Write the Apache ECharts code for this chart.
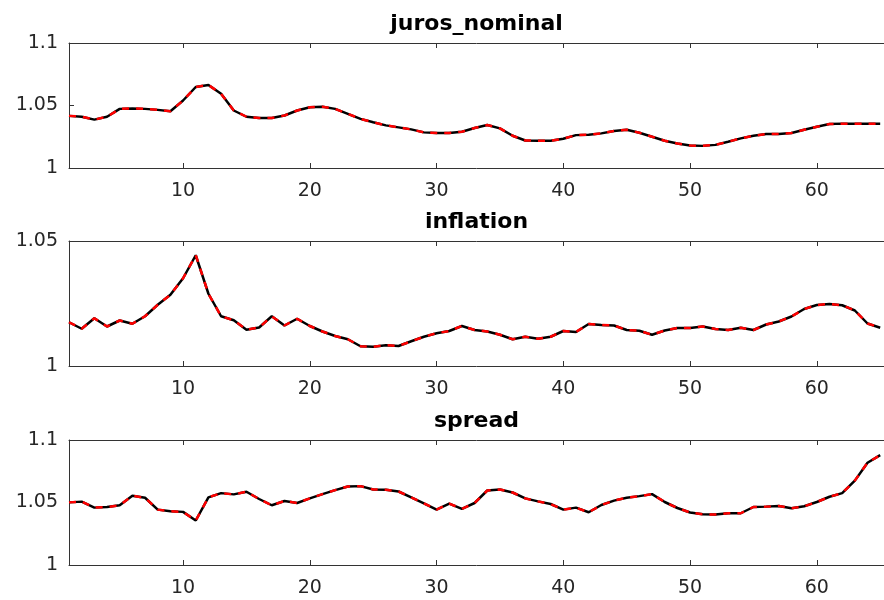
<!DOCTYPE html>
<html>
<head>
<meta charset="utf-8">
<script src="https://cdn.jsdelivr.net/npm/echarts@6/dist/echarts.min.js"></script>
<style>
  html, body { margin: 0; padding: 0; background: #ffffff; }
  #chart { width: 884px; height: 600px; }
</style>
</head>
<body>
<div id="chart"></div>
<script>
// Panel titles
const panelTitles = ['juros_nominal', 'inflation', 'spread'];

// Model fit (black) and observed (red dashed) paths, periods 1..65
const jurosNominal = [
  1.0417, 1.0410, 1.0387, 1.0410, 1.0473, 1.0476, 1.0473, 1.0465, 1.0454, 1.0540,
  1.0648, 1.0664, 1.0594, 1.0460, 1.0410, 1.0400, 1.0400, 1.0420, 1.0460, 1.0486,
  1.0490, 1.0473, 1.0433, 1.0393, 1.0366, 1.0341, 1.0325, 1.0309, 1.0285, 1.0280,
  1.0280, 1.0290, 1.0320, 1.0344, 1.0317, 1.0258, 1.0220, 1.0218, 1.0218, 1.0234,
  1.0263, 1.0266, 1.0277, 1.0296, 1.0306, 1.0282, 1.0250, 1.0218, 1.0196, 1.0180,
  1.0177, 1.0185, 1.0210, 1.0237, 1.0258, 1.0272, 1.0272, 1.0280, 1.0306, 1.0330,
  1.0352, 1.0355, 1.0355, 1.0355, 1.0354
];
const inflation = [
  1.0175, 1.0149, 1.0191, 1.0158, 1.0182, 1.0169, 1.0199, 1.0245, 1.0285, 1.0351,
  1.0443, 1.0289, 1.0199, 1.0183, 1.0145, 1.0154, 1.0199, 1.0162, 1.0189, 1.0160,
  1.0138, 1.0120, 1.0107, 1.0079, 1.0077, 1.0083, 1.0080, 1.0099, 1.0117, 1.0131,
  1.0140, 1.0160, 1.0144, 1.0138, 1.0125, 1.0107, 1.0117, 1.0109, 1.0117, 1.0140,
  1.0136, 1.0168, 1.0164, 1.0162, 1.0144, 1.0141, 1.0125, 1.0142, 1.0152, 1.0152,
  1.0158, 1.0148, 1.0144, 1.0153, 1.0144, 1.0166, 1.0178, 1.0198, 1.0228, 1.0244,
  1.0248, 1.0243, 1.0222, 1.0170, 1.0153
];
const spread = [
  1.0501, 1.0507, 1.0459, 1.0464, 1.0478, 1.0554, 1.0538, 1.0443, 1.0430, 1.0425,
  1.0356, 1.0541, 1.0575, 1.0565, 1.0586, 1.0528, 1.0478, 1.0512, 1.0496, 1.0533,
  1.0567, 1.0599, 1.0628, 1.0631, 1.0604, 1.0602, 1.0588, 1.0541, 1.0493, 1.0443,
  1.0491, 1.0449, 1.0496, 1.0596, 1.0604, 1.0580, 1.0533, 1.0509, 1.0488, 1.0443,
  1.0459, 1.0422, 1.0480, 1.0515, 1.0538, 1.0551, 1.0567, 1.0504, 1.0456, 1.0420,
  1.0406, 1.0404, 1.0414, 1.0414, 1.0464, 1.0467, 1.0472, 1.0454, 1.0470, 1.0504,
  1.0546, 1.0575, 1.0675, 1.0818, 1.0879
];

// Axis settings per panel
const yMins = [1, 1, 1];
const yMaxs = [1.1, 1.05, 1.1];
const yStep = 0.05;
const xTicks = [10, 20, 30, 40, 50, 60];

const panels = [jurosNominal, inflation, spread];
const gridTops = [43, 241, 440];
const gridHeight = 125;

const FONT = 'DejaVu Sans';
const AXIS_COLOR = '#333333';
const TEXT_COLOR = '#262626';

const grids = [], xAxes = [], yAxes = [], series = [];

panels.forEach((vals, i) => {
  grids.push({ left: 69, top: gridTops[i], height: gridHeight, right: 0, containLabel: false });
  const pts = vals.map((v, k) => [k + 1, v]);
  const xBase = {
    type: 'value', gridIndex: i, min: 1, max: 65.3,
    axisLine: { show: true, lineStyle: { color: AXIS_COLOR, width: 1 } },
    axisTick: { show: true, inside: true, length: 5, customValues: xTicks, lineStyle: { color: AXIS_COLOR } },
    splitLine: { show: false }
  };
  // bottom axis with labels
  xAxes.push(Object.assign({}, xBase, {
    position: 'bottom',
    axisLabel: { show: true, customValues: xTicks, margin: 14, fontFamily: FONT, fontSize: 19, color: TEXT_COLOR }
  }));
  // top axis carries the panel title
  xAxes.push(Object.assign({}, xBase, {
    position: 'top',
    axisLabel: { show: false },
    name: panelTitles[i], nameLocation: 'middle', nameGap: 8,
    nameTextStyle: { fontFamily: FONT, fontSize: 22, fontWeight: 'bold', color: '#000000' }
  }));
  yAxes.push({
    type: 'value', gridIndex: i, min: yMins[i], max: yMaxs[i], interval: yStep,
    axisLine: { show: true, lineStyle: { color: AXIS_COLOR, width: 1 } },
    axisTick: { show: true, inside: true, length: 5, lineStyle: { color: AXIS_COLOR } },
    axisLabel: { margin: 11, fontFamily: FONT, fontSize: 19, color: TEXT_COLOR },
    splitLine: { show: false }
  });
  series.push({
    type: 'line', xAxisIndex: i * 2, yAxisIndex: i, data: pts,
    showSymbol: false, symbol: 'none', z: 2,
    lineStyle: { color: '#000000', width: 2.5, type: 'solid' }
  });
  series.push({
    type: 'line', xAxisIndex: i * 2, yAxisIndex: i, data: pts,
    showSymbol: false, symbol: 'none', z: 3,
    lineStyle: { color: '#ff0000', width: 2.5, type: [7, 7] }
  });
});

const chart = echarts.init(document.getElementById('chart'), null, { renderer: 'canvas' });
chart.setOption({
  animation: false,
  backgroundColor: '#ffffff',
  grid: grids,
  xAxis: xAxes,
  yAxis: yAxes,
  series: series
});
</script>
</body>
</html>
